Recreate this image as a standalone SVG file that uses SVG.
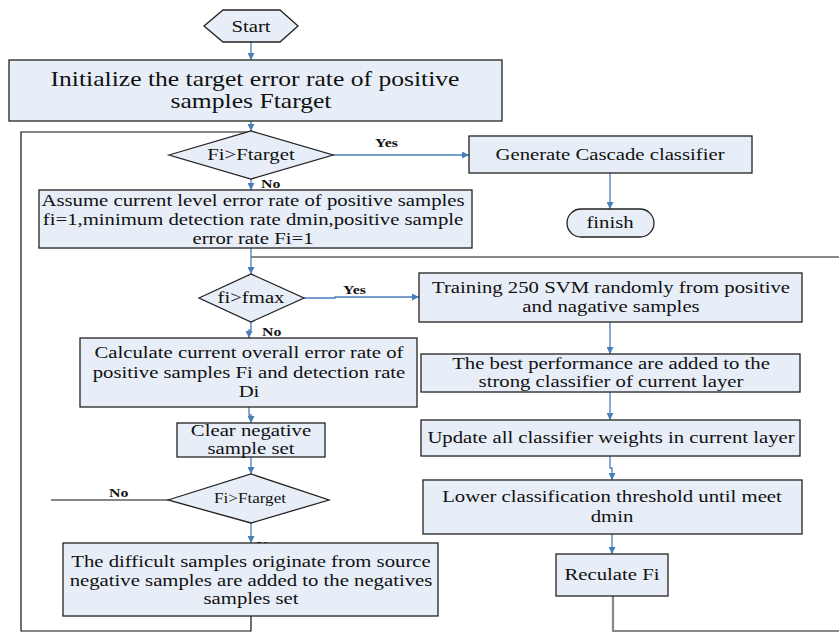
<svg xmlns="http://www.w3.org/2000/svg" width="839" height="632" viewBox="0 0 839 632">
<style>
.n{fill:#e8eef8;stroke:#222;stroke-width:1.3}
text{font-family:"Liberation Serif","Times New Roman","DejaVu Serif",serif;fill:#111}
.t{text-anchor:middle;font-size:17px}
.s20{font-size:21px}
.lb{font-weight:bold;font-size:13px}
.a{fill:none;stroke:#4a7ebb;stroke-width:1.3;marker-end:url(#ah)}
.k{fill:none;stroke:#111;stroke-width:1.2}
.g{fill:none;stroke:#888;stroke-width:2.2}
</style>
<defs>
<marker id="ah" viewBox="0 0 10 10" refX="10" refY="5" markerWidth="7" markerHeight="7" markerUnits="userSpaceOnUse" orient="auto">
<path d="M0,0 L10,5 L0,10 z" fill="#4a7ebb"/>
</marker>
</defs>
<rect width="839" height="632" fill="#fff"/>
<g id="connectors">
<path class="g" d="M613,596 V631 H839 M839,257 H251"/>
<path class="k" d="M251,616 V631 H21 V132 H251"/>
<path class="k" d="M168,500 H51"/>
<path class="a" d="M251,42 V60"/>
<path class="a" d="M251,121 V131"/>
<path class="a" d="M333,155 H469"/>
<path class="a" d="M610,173 V209"/>
<path class="a" d="M251,179 V190"/>
<path class="a" d="M251,248 V274"/>
<path class="a" d="M304,298 H335 V297 H419"/>
<path class="a" d="M610,322 V354"/>
<path class="a" d="M610,392 V420"/>
<path class="a" d="M610,456 V468 H612 V480"/>
<path class="a" d="M612,534 V554"/>
<path class="a" d="M251,322 V330 H249 V338"/>
<path class="a" d="M249,407 V415 H251 V423"/>
<path class="a" d="M251,457 V474"/>
<path class="a" d="M251,523 V543"/>
<text class="lb" transform="matrix(1.22 0 0 1 375 147)">Yes</text>
<text class="lb" transform="matrix(1.22 0 0 1 261 188)">No</text>
<text class="lb" transform="matrix(1.22 0 0 1 343 294)">Yes</text>
<text class="lb" transform="matrix(1.22 0 0 1 262 336)">No</text>
<text class="lb" transform="matrix(1.22 0 0 1 109 497)">No</text>
<text class="lb" transform="matrix(1.22 0 0 1 256 550)">Yes</text>
</g>
<g id="start">
<polygon class="n" points="204,26 223,10 280,10 298,26 280,42 223,42"/>
<text class="t" transform="matrix(1.22 0 0 1 251 32)">Start</text>
</g>
<g id="init">
<rect class="n" x="9" y="60" width="493" height="61"/>
<text class="t s20" transform="matrix(1.22 0 0 1 255 86)">Initialize the target error rate of positive</text>
<text class="t s20" transform="matrix(1.22 0 0 1 251 108)">samples Ftarget</text>
</g>
<g id="d1">
<polygon class="n" points="169,155 251,131 333,155 251,179"/>
<text class="t" transform="matrix(1.22 0 0 1 251 160)">Fi&gt;Ftarget</text>
</g>
<g id="generate">
<rect class="n" x="469" y="136" width="283" height="37"/>
<text class="t" transform="matrix(1.22 0 0 1 610 160)">Generate Cascade classifier</text>
</g>
<g id="finish">
<rect class="n" x="567" y="209" width="87" height="28" rx="14" ry="14"/>
<text class="t" transform="matrix(1.22 0 0 1 610 228)">finish</text>
</g>
<g id="assume">
<rect class="n" x="39" y="190" width="433" height="58"/>
<text class="t" transform="matrix(1.22 0 0 1 253 206)">Assume current level error rate of positive samples</text>
<text class="t" transform="matrix(1.22 0 0 1 253 225)">fi=1,minimum detection rate dmin,positive sample</text>
<text class="t" transform="matrix(1.22 0 0 1 253 244)">error rate Fi=1</text>
</g>
<g id="d2">
<polygon class="n" points="199,298 251,274 304,298 251,322"/>
<text class="t" transform="matrix(1.22 0 0 1 251 303)">fi&gt;fmax</text>
</g>
<g id="training">
<rect class="n" x="419" y="273" width="383" height="49"/>
<text class="t" transform="matrix(1.22 0 0 1 611 293)">Training 250 SVM randomly from positive</text>
<text class="t" transform="matrix(1.22 0 0 1 611 312)">and nagative samples</text>
</g>
<g id="best">
<rect class="n" x="421" y="354" width="379" height="38"/>
<text class="t" transform="matrix(1.22 0 0 1 611 369)">The best performance are added to the</text>
<text class="t" transform="matrix(1.22 0 0 1 611 387)">strong classifier of current layer</text>
</g>
<g id="update">
<rect class="n" x="421" y="420" width="379" height="36"/>
<text class="t" transform="matrix(1.22 0 0 1 611 443)">Update all classifier weights in current layer</text>
</g>
<g id="lower">
<rect class="n" x="423" y="480" width="379" height="54"/>
<text class="t" transform="matrix(1.22 0 0 1 612 502)">Lower classification threshold until meet</text>
<text class="t" transform="matrix(1.22 0 0 1 612 522)">dmin</text>
</g>
<g id="reculate">
<rect class="n" x="556" y="554" width="112" height="42"/>
<text class="t" transform="matrix(1.22 0 0 1 612 580)">Reculate Fi</text>
</g>
<g id="calculate">
<rect class="n" x="80" y="338" width="337" height="69"/>
<text class="t" transform="matrix(1.22 0 0 1 249 358)">Calculate current overall error rate of</text>
<text class="t" transform="matrix(1.22 0 0 1 249 378)">positive samples Fi and detection rate</text>
<text class="t" transform="matrix(1.22 0 0 1 249 397)">Di</text>
</g>
<g id="clear">
<rect class="n" x="177" y="423" width="148" height="34"/>
<text class="t" transform="matrix(1.22 0 0 1 251 436)">Clear negative</text>
<text class="t" transform="matrix(1.22 0 0 1 251 454)">sample set</text>
</g>
<g id="d3">
<polygon class="n" points="168,500 251,474 329,500 251,523"/>
<text class="t" style="font-size:14px" transform="matrix(1.22 0 0 1 250 503)">Fi&gt;Ftarget</text>
</g>
<g id="difficult">
<rect class="n" x="63" y="543" width="375" height="73"/>
<text class="t" transform="matrix(1.22 0 0 1 251 567)">The difficult samples originate from source</text>
<text class="t" transform="matrix(1.22 0 0 1 251 586)">negative samples are added to the negatives</text>
<text class="t" transform="matrix(1.22 0 0 1 251 604)">samples set</text>
</g>
</svg>
